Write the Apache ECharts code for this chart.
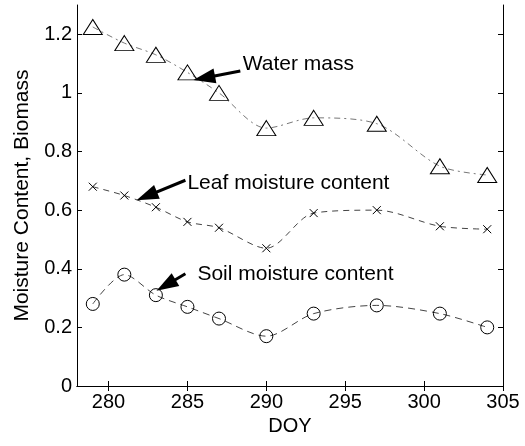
<!DOCTYPE html>
<html>
<head>
<meta charset="utf-8">
<script src="https://cdn.jsdelivr.net/npm/echarts@6/dist/echarts.min.js"></script>
<style>
  html, body { margin: 0; padding: 0; background: #fff; }
  #chart { width: 525px; height: 446px; }
</style>
</head>
<body>
<div id="chart"></div>
<script>
const doy = [279, 281, 283, 285, 287, 290, 293, 297, 301, 304]
const waterMass = [1.225, 1.17, 1.13, 1.07, 1.0, 0.88, 0.915, 0.895, 0.75, 0.72]
const leafMoisture = [0.68, 0.65, 0.61, 0.56, 0.54, 0.47, 0.59, 0.60, 0.545, 0.535]
const soilMoisture = [0.28, 0.38, 0.31, 0.27, 0.23, 0.17, 0.247, 0.275, 0.247, 0.20]
const xTicks = [280, 285, 290, 295, 300, 305]
const yTicks = [0, 0.2, 0.4, 0.6, 0.8, 1, 1.2]

// annotation anchors in data units: text pos, arrow tail, arrow head centre
const notes = [
  { text: 'Water mass', at: [288.5, 1.098], tail: [288.35, 1.075], head: [286.06, 1.051] },
  { text: 'Leaf moisture content', at: [285.0, 0.692], tail: [284.87, 0.702], head: [282.42, 0.648] },
  { text: 'Soil moisture content', at: [285.63, 0.383], tail: [284.87, 0.383], head: [283.64, 0.344] }
]

const font = 'Liberation Sans, Arial, sans-serif'
const pair = (xs, ys) => xs.map((x, i) => [x, ys[i]])

const annotate = (n) => ({
  markLine: {
    silent: true,
    symbol: ['none', 'triangle'],
    symbolSize: [15, 22],
    label: { show: false },
    lineStyle: { color: '#000', width: 3, type: 'solid' },
    data: [[{ coord: n.tail }, { coord: n.head }]]
  },
  markPoint: {
    silent: true,
    symbol: 'circle',
    symbolSize: 0,
    label: {
      show: true,
      position: 'right',
      distance: 0,
      formatter: n.text,
      color: '#000',
      fontFamily: font,
      fontSize: 21
    },
    data: [{ coord: n.at }]
  }
})

const xBase = {
  type: 'value', min: 278, max: 305,
  axisLine: { show: true, lineStyle: { color: '#000' } },
  axisTick: { inside: true, length: 5, customValues: xTicks, lineStyle: { color: '#000' } },
  splitLine: { show: false }
}
const yBase = {
  type: 'value', min: 0, max: 1.3,
  axisLine: { show: true, lineStyle: { color: '#000' } },
  axisTick: { inside: true, length: 5, customValues: yTicks, lineStyle: { color: '#000' } },
  splitLine: { show: false }
}

const chart = echarts.init(document.getElementById('chart'))
chart.setOption({
  animation: false,
  backgroundColor: '#fff',
  grid: { left: 77, right: 22, top: 5, bottom: 60, containLabel: false, outerBoundsMode: 'none' },
  xAxis: [
    Object.assign({}, xBase, {
      name: 'DOY', nameLocation: 'middle', nameGap: 30,
      nameTextStyle: { color: '#000', fontFamily: font, fontSize: 20 },
      axisLabel: { color: '#000', fontFamily: font, fontSize: 20, margin: 6, customValues: xTicks }
    }),
    Object.assign({}, xBase, { position: 'top', axisLabel: { show: false } })
  ],
  yAxis: [
    Object.assign({}, yBase, {
      name: 'Moisture Content, Biomass', nameLocation: 'middle', nameGap: 44,
      nameTextStyle: { color: '#000', fontFamily: font, fontSize: 21 },
      axisLabel: { color: '#000', fontFamily: font, fontSize: 20, margin: 5, customValues: yTicks }
    }),
    Object.assign({}, yBase, { position: 'right', axisLabel: { show: false } })
  ],
  series: [
    Object.assign({
      name: 'Water mass',
      type: 'line',
      smooth: 0.3,
      data: pair(doy, waterMass),
      symbol: 'triangle',
      symbolSize: [19, 15],
      itemStyle: { color: 'rgba(0,0,0,0)', borderColor: '#000', borderWidth: 1 },
      lineStyle: { color: '#777', width: 1, type: [6, 4, 2, 4] }
    }, annotate(notes[0])),
    Object.assign({
      name: 'Leaf moisture content',
      type: 'line',
      smooth: 0.3,
      data: pair(doy, leafMoisture),
      symbol: 'path://M0,0L10,10M10,0L0,10',
      symbolSize: 8,
      itemStyle: { color: 'rgba(0,0,0,0)', borderColor: '#000', borderWidth: 1 },
      lineStyle: { color: '#444', width: 1, type: [6, 5] }
    }, annotate(notes[1])),
    Object.assign({
      name: 'Soil moisture content',
      type: 'line',
      smooth: 0.3,
      data: pair(doy, soilMoisture),
      symbol: 'circle',
      symbolSize: 13,
      itemStyle: { color: 'rgba(0,0,0,0)', borderColor: '#000', borderWidth: 1 },
      lineStyle: { color: '#444', width: 1, type: [7, 5] }
    }, annotate(notes[2]))
  ]
})
</script>
</body>
</html>
